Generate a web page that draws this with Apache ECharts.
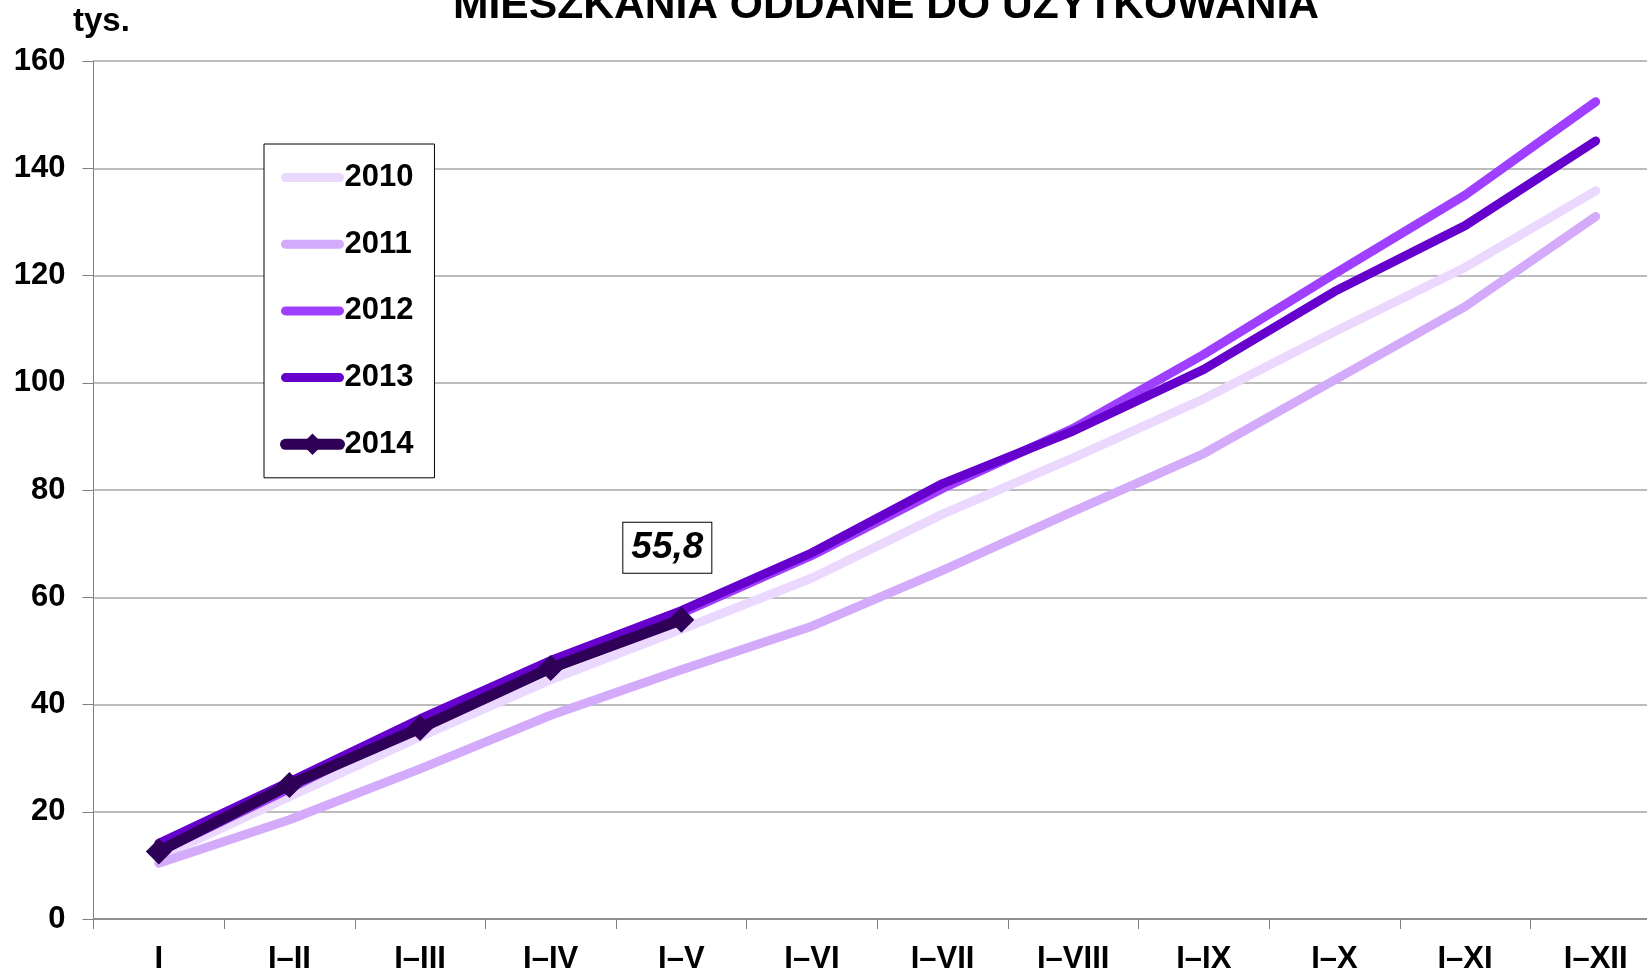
<!DOCTYPE html>
<html>
<head>
<meta charset="utf-8">
<title>Mieszkania oddane do użytkowania</title>
<script src="https://cdn.jsdelivr.net/npm/echarts@6/dist/echarts.min.js"></script>
<style>
  html, body { margin: 0; padding: 0; background: #fff; }
  #chart { width: 1647px; height: 973px; }
</style>
</head>
<body>
<div id="chart"></div>
<script>
// cumulative months, thousands of dwellings
var months = ['I', 'I–II', 'I–III', 'I–IV', 'I–V', 'I–VI', 'I–VII', 'I–VIII', 'I–IX', 'I–X', 'I–XI', 'I–XII'];
var y2010 = [11.5, 22.8, 34.0, 44.6, 54.0, 63.6, 75.5, 86.0, 97.0, 109.5, 121.5, 135.8];
var y2011 = [10.4, 18.5, 28.0, 38.0, 46.5, 54.6, 65.0, 76.0, 86.8, 100.5, 114.2, 131.0];
var y2012 = [12.5, 24.3, 36.5, 47.6, 57.0, 67.8, 80.3, 91.5, 105.3, 120.3, 135.0, 152.4];
var y2013 = [14.1, 25.6, 37.3, 48.2, 57.5, 68.3, 81.2, 91.0, 102.5, 117.0, 129.3, 145.1];
var y2014 = [12.6, 25.0, 35.6, 46.8, 55.8];
var yTicks = [0, 20, 40, 60, 80, 100, 120, 140, 160];

var FONT = "'Liberation Sans', Arial, sans-serif";

var chart = echarts.init(document.getElementById('chart'), null, { renderer: 'canvas' });

function plainLine(name, data, color) {
  return {
    name: name,
    type: 'line',
    data: data,
    symbol: 'none',
    lineStyle: { color: color, width: 9, cap: 'round', join: 'round' },
    itemStyle: { color: color },
    z: 2
  };
}

// last point of 2014 gets the boxed value label
var data2014 = y2014.map(function (v, i) {
  if (i !== y2014.length - 1) return v;
  return {
    value: v,
    label: {
      show: true,
      position: [-45, -84],
      formatter: function (p) { return String(p.value).replace('.', ','); },
      fontFamily: FONT,
      fontSize: 37,
      fontWeight: 'bold',
      fontStyle: 'italic',
      color: '#000',
      backgroundColor: '#fff',
      borderColor: '#000',
      borderWidth: 1,
      padding: [7, 8, 6, 8]
    }
  };
});

// no marker in the legend for the plain lines
function legendItem(name) {
  return { name: name, itemStyle: { opacity: 0, color: 'rgba(0,0,0,0)', borderWidth: 0 } };
}

var option = {
  animation: false,
  backgroundColor: '#fff',
  title: [{
    text: 'MIESZKANIA ODDANE DO UŻYTKOWANIA',
    left: 453,
    top: -15,
    padding: 0,
    textStyle: { fontFamily: FONT, fontSize: 42.6, fontWeight: 'bold', color: '#000', lineHeight: 43 }
  }, {
    text: 'tys.',
    left: 73,
    top: 5,
    padding: 0,
    textStyle: { fontFamily: FONT, fontSize: 33, fontWeight: 'bold', color: '#000', lineHeight: 33 }
  }],
  legend: {
    orient: 'vertical',
    left: 264,
    top: 144,
    padding: [18, 21, 18, 16],
    itemWidth: 54,
    itemHeight: 27,
    itemGap: 35.7,
    backgroundColor: '#fff',
    borderColor: '#000',
    borderWidth: 1,
    lineStyle: { width: 'inherit', cap: 'round' },
    textStyle: { fontFamily: FONT, fontSize: 31, fontWeight: 'bold', color: '#000', lineHeight: 31 },
    data: [legendItem('2010'), legendItem('2011'), legendItem('2012'), legendItem('2013'), { name: '2014' }]
  },
  grid: { left: 93.5, top: 61, width: 1567.5, bottom: 54, outerBoundsMode: 'none' },
  xAxis: {
    type: 'category',
    data: months,
    boundaryGap: true,
    axisLine: { lineStyle: { color: '#808080', width: 1.5 } },
    axisTick: { show: true, length: 10, interval: 0, lineStyle: { color: '#808080' } },
    axisLabel: {
      interval: 0,
      margin: 25,
      fontFamily: FONT,
      fontSize: 31,
      fontWeight: 'bold',
      color: '#000'
    }
  },
  yAxis: {
    type: 'value',
    min: yTicks[0],
    max: yTicks[yTicks.length - 1],
    interval: 20,
    axisLine: { show: true, lineStyle: { color: '#808080', width: 1 } },
    axisTick: { show: true, length: 11, lineStyle: { color: '#808080' } },
    axisLabel: {
      margin: 28,
      fontFamily: FONT,
      fontSize: 31,
      fontWeight: 'bold',
      color: '#000'
    },
    splitLine: { lineStyle: { color: '#a6a6a6', width: 1.5 } }
  },
  series: [
    plainLine('2010', y2010, '#ead8ff'),
    plainLine('2011', y2011, '#d4aafa'),
    plainLine('2012', y2012, '#9f3fff'),
    plainLine('2013', y2013, '#6600cc'),
    {
      name: '2014',
      type: 'line',
      data: data2014,
      symbol: 'diamond',
      symbolSize: 26,
      showAllSymbol: true,
      lineStyle: { color: '#2e0057', width: 11, cap: 'round', join: 'round' },
      itemStyle: { color: '#2e0057' },
      z: 3
    }
  ]
};

chart.setOption(option);
</script>
</body>
</html>
